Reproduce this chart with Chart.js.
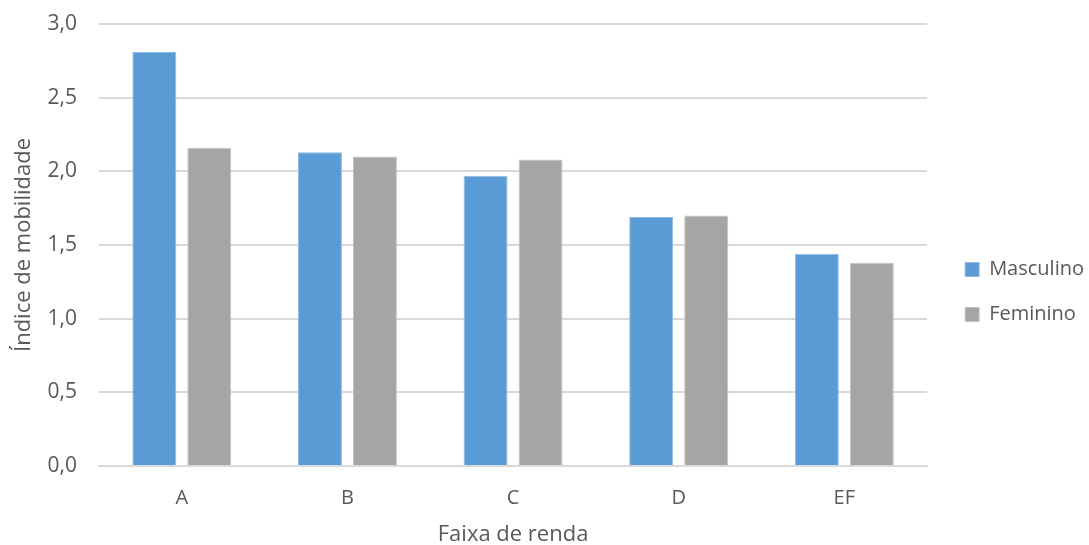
<!DOCTYPE html>
<html>
<head>
<meta charset="utf-8">
<script src="https://cdn.jsdelivr.net/npm/chart.js@4"></script>
<style>
  html, body { margin: 0; padding: 0; background: #fff; }
  #wrap { width: 1089px; height: 545px; }
</style>
</head>
<body>
<div id="wrap"><canvas id="c" width="1089" height="545"></canvas></div>
<script>
const categories = ['A', 'B', 'C', 'D', 'EF'];
const masculino = [2.81, 2.13, 1.97, 1.69, 1.44];
const feminino = [2.16, 2.10, 2.08, 1.70, 1.38];
const yTicks = [0, 0.5, 1.0, 1.5, 2.0, 2.5, 3.0];

const FONT = "'Open Sans', 'Noto Sans', sans-serif";
const TEXT = '#595959';
const GRID = '#D9D9D9';

// moves the right-hand legend block a little right and down, beside the lower half of the plot
const legendOffset = {
  id: 'legendOffset',
  afterLayout(chart) {
    const lg = chart.legend;
    if (!lg) return;
    const dx = 7, dy = 6;
    lg.left += dx; lg.right += dx;
    lg.top += dy; lg.bottom += dy;
  }
};

new Chart(document.getElementById('c'), {
  type: 'bar',
  data: {
    labels: categories,
    datasets: [
      { label: 'Masculino', data: masculino, backgroundColor: '#5B9BD5', borderColor: '#8DBBE6', borderWidth: 1,
        categoryPercentage: 0.664, barPercentage: 0.8 },
      { label: 'Feminino', data: feminino, backgroundColor: '#A5A5A5', borderColor: '#C4C4C4', borderWidth: 1,
        categoryPercentage: 0.664, barPercentage: 0.8 }
    ]
  },
  options: {
    responsive: false,
    animation: false,
    layout: { padding: { top: 24, right: 2, bottom: -3, left: 4 } },
    plugins: {
      tooltip: { enabled: false },
      legend: {
        position: 'right',
        labels: {
          font: { family: FONT, size: 20 },
          color: TEXT,
          boxWidth: 14,
          boxHeight: 14,
          padding: 25
        }
      }
    },
    scales: {
      x: {
        grid: { display: false, drawTicks: false },
        border: { display: true, color: GRID, width: 2 },
        ticks: { font: { family: FONT, size: 20 }, color: TEXT, padding: 20 },
        title: { display: true, text: 'Faixa de renda', font: { family: FONT, size: 22 }, color: TEXT, padding: { top: 8, bottom: 0 } },
        afterFit: s => { s.height = 82; }
      },
      y: {
        min: 0, max: 3,
        afterBuildTicks: axis => { axis.ticks = yTicks.map(v => ({ value: v })); },
        grid: { color: GRID, lineWidth: 2, drawTicks: false },
        border: { display: false },
        ticks: {
          font: { family: FONT, size: 21 }, color: TEXT, padding: 22,
          callback: v => Number(v).toFixed(1).replace('.', ',')
        },
        title: { display: true, text: 'Índice de mobilidade', font: { family: FONT, size: 22 }, color: TEXT, padding: { top: 7, bottom: 10 } },
        afterFit: s => { s.width = 95; s.paddingTop = 0; s.paddingBottom = 0; }
      },
      // empty right-hand axis used only as a gap between the plot and the legend
      gap: {
        type: 'linear',
        position: 'right',
        grid: { display: false, drawTicks: false },
        border: { display: false },
        ticks: { display: false },
        afterFit: s => { s.width = 6; s.paddingTop = 0; s.paddingBottom = 0; }
      }
    }
  },
  plugins: [legendOffset]
});
</script>
</body>
</html>
